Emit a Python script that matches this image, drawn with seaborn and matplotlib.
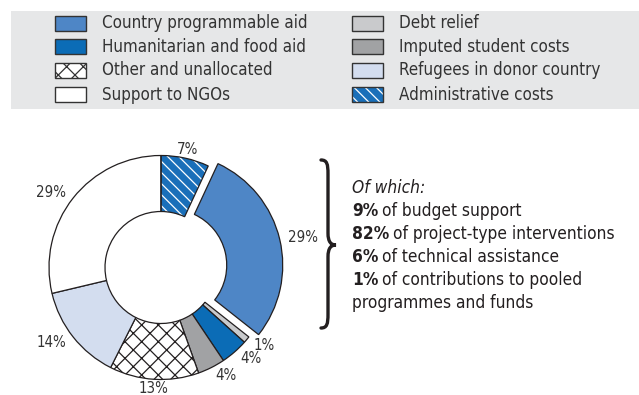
import matplotlib
matplotlib.use("Agg")
import matplotlib.pyplot as plt
from matplotlib.patches import Rectangle, PathPatch, Wedge
from matplotlib.path import Path
from matplotlib import font_manager as fm
import numpy as np
import seaborn as sns

# ODA breakdown (share of total, %), clockwise from 12 o'clock
categories = [
    "Administrative costs",
    "Country programmable aid",
    "Debt relief",
    "Humanitarian and food aid",
    "Imputed student costs",
    "Other and unallocated",
    "Refugees in donor country",
    "Support to NGOs",
]
shares = [7, 29, 1, 4, 4, 13, 14, 29]
pct_labels = [f"{v}%" for v in shares]

# legend layout: two columns
legend_col1 = ["Country programmable aid", "Humanitarian and food aid",
               "Other and unallocated", "Support to NGOs"]
legend_col2 = ["Debt relief", "Imputed student costs",
               "Refugees in donor country", "Administrative costs"]

# breakdown of country programmable aid
cpa_heading = "Of which:"
cpa_parts_bold = ["9%", "82%", "6%", "1%", ""]
cpa_parts_text = ["of budget support", "of project-type interventions",
                  "of technical assistance", "of contributions to pooled",
                  "programmes and funds"]

styles = {
    "Country programmable aid": dict(fc="#4e86c6", hatch=None),
    "Humanitarian and food aid": dict(fc="#0b6cb6", hatch=None),
    "Other and unallocated": dict(fc="white", hatch="xx"),
    "Support to NGOs": dict(fc="white", hatch=None),
    "Debt relief": dict(fc="#c9cacc", hatch=None),
    "Imputed student costs": dict(fc="#a1a2a4", hatch=None),
    "Refugees in donor country": dict(fc="#d3ddef", hatch=None),
    "Administrative costs": dict(fc="#1a6fb9", hatch="\\\\\\", hatchcol="white"),
}

sns.set_theme(style="white")
plt.rcParams["font.family"] = ["Liberation Sans", "DejaVu Sans"]
plt.rcParams["hatch.linewidth"] = 0.9


# ---- pick a narrow sans face if one is installed --------------------------
def _wt(f):
    w = f.weight
    if isinstance(w, str):
        w = fm.weight_dict.get(w, 400)
    return w


def narrow_face(italic=False, bold=False):
    cands = []
    for f in fm.fontManager.ttflist:
        narrow = ("Narrow" in f.name or "Condensed" in f.name
                  or f.stretch in ("condensed", "semi-condensed",
                                   "extra-condensed"))
        if not narrow:
            continue
        if (f.style != "normal") != italic:
            continue
        if (_wt(f) >= 600) != bold or _wt(f) < 350 or _wt(f) > 750:
            continue
        cands.append(f)
    if cands:
        cands.sort(key=lambda f: ("Sans" not in f.name, f.fname))
        return fm.FontProperties(fname=cands[0].fname)
    return fm.FontProperties(family=["Roboto", "Liberation Sans"],
                             style="italic" if italic else "normal",
                             weight="bold" if bold else "normal")


FP_REG = narrow_face()
FP_BOLD = narrow_face(bold=True)
FP_ITAL = narrow_face(italic=True)

W, H = 639, 395
fig = plt.figure(figsize=(W / 100, H / 100), dpi=100)
ax = fig.add_axes([0, 0, 1, 1])

EDGE = "#231f20"
TXT = "#333333"

# ---- donut -------------------------------------------------------------
cx, cy, R = 161, 395 - 267.5, 112
explode = [10 if c == "Country programmable aid" else 0 for c in categories]
wedges, _ = ax.pie(
    shares,
    colors=[styles[c]["fc"] for c in categories],
    startangle=90,
    counterclock=False,
    explode=explode,
    radius=R,
    center=(cx, cy),
    wedgeprops=dict(width=R * 0.5, edgecolor=EDGE, linewidth=0.9),
)
ax.set_xlim(0, W)
ax.set_ylim(0, H)
ax.set_aspect("auto")
ax.axis("off")

for w, c in zip(wedges, categories):
    st = styles[c]
    if st["hatch"] and st.get("hatchcol"):
        # coloured hatch: draw the stripes in white, then the outline on top
        w.set_edgecolor(st["hatchcol"])
        w.set_hatch(st["hatch"])
        w.set_linewidth(0)
        ax.add_patch(Wedge(w.center, w.r, w.theta1, w.theta2, width=w.width,
                           fill=False, edgecolor=EDGE, linewidth=0.9))
    elif st["hatch"]:
        w.set_hatch(st["hatch"])

fig.canvas.draw()
renderer = fig.canvas.get_renderer()


def fitted_size(text, fp, base, max_px):
    t = fig.text(0, 0, text, fontproperties=fp, fontsize=base)
    wpx = t.get_window_extent(renderer).width
    t.remove()
    return base * min(1.0, max_px / wpx)


LAB_FS = fitted_size("29%", FP_REG, 12.5, 30)
LEG_FS = fitted_size("Country programmable aid", FP_REG, 14.5, 205)
BODY_FS = fitted_size("of project-type interventions", FP_REG, 13, 222)

for w, lab in zip(wedges, pct_labels):
    mid = np.deg2rad((w.theta1 + w.theta2) / 2)
    d = 1.08 * w.r
    x = w.center[0] + d * np.cos(mid)
    y = w.center[1] + d * np.sin(mid)
    c = np.cos(mid)
    ha = "center" if abs(c) < 0.25 else ("left" if c > 0 else "right")
    ax.text(x, y, lab, ha=ha, va="center", fontproperties=FP_REG,
            fontsize=LAB_FS, color=TXT)

# ---- legend band ----------------------------------------------------------
ax.add_patch(Rectangle((11, H - 109), W - 11, 98, facecolor="#e6e7e8",
                       edgecolor="none", zorder=0))

PW, PH = 31, 15


def legend_entry(x, yc, name):
    st = styles[name]
    if st["hatch"] and st.get("hatchcol"):
        ax.add_patch(Rectangle((x, yc - PH / 2), PW, PH, facecolor=st["fc"],
                               edgecolor=st["hatchcol"], hatch=st["hatch"],
                               linewidth=0))
        ax.add_patch(Rectangle((x, yc - PH / 2), PW, PH, fill=False,
                               edgecolor="#333333", linewidth=1.0))
    else:
        ax.add_patch(Rectangle((x, yc - PH / 2), PW, PH, facecolor=st["fc"],
                               edgecolor="#333333", hatch=st["hatch"],
                               linewidth=1.0))
    ax.text(x + 47, yc, name, ha="left", va="center", fontproperties=FP_REG,
            fontsize=LEG_FS, color=TXT)


row_y = [23, 46.7, 70.3, 94.5]
for yimg, name in zip(row_y, legend_col1):
    legend_entry(55, H - yimg, name)
for yimg, name in zip(row_y, legend_col2):
    legend_entry(352, H - yimg, name)

# ---- curly brace -----------------------------------------------------------
x0, xs, xt = 321, 328, 336
yt, ym, yb = H - 160, H - 245, H - 328
verts = [
    (x0, yt), (xs - 1, yt), (xs, yt - 4), (xs, yt - 14),
    (xs, ym + 12),
    (xs, ym + 3), (xs + 3, ym), (xt, ym),
    (xs + 3, ym), (xs, ym - 3), (xs, ym - 12),
    (xs, yb + 14),
    (xs, yb + 4), (xs - 1, yb), (x0, yb),
]
codes = [Path.MOVETO, Path.CURVE4, Path.CURVE4, Path.CURVE4,
         Path.LINETO,
         Path.CURVE4, Path.CURVE4, Path.CURVE4,
         Path.CURVE4, Path.CURVE4, Path.CURVE4,
         Path.LINETO,
         Path.CURVE4, Path.CURVE4, Path.CURVE4]
ax.add_patch(PathPatch(Path(verts, codes), fill=False, edgecolor=EDGE,
                       linewidth=2.4, capstyle="round"))

# ---- breakdown text --------------------------------------------------------
tx = 352
ax.text(tx, H - 188, cpa_heading, ha="left", va="center",
        fontproperties=FP_ITAL, fontsize=BODY_FS, color=EDGE)
to_data = ax.transData.inverted()
for i, (b, t) in enumerate(zip(cpa_parts_bold, cpa_parts_text)):
    yy = H - (211 + 23 * i)
    x = tx
    if b:
        bt = ax.text(x, yy, b, ha="left", va="center", fontproperties=FP_BOLD,
                     fontsize=BODY_FS, color=EDGE)
        bb = bt.get_window_extent(renderer)
        x = to_data.transform((bb.x1, 0))[0] + 3.5
    ax.text(x, yy, t, ha="left", va="center", fontproperties=FP_REG,
            fontsize=BODY_FS, color=EDGE)

fig.savefig("out.png", dpi=100)
